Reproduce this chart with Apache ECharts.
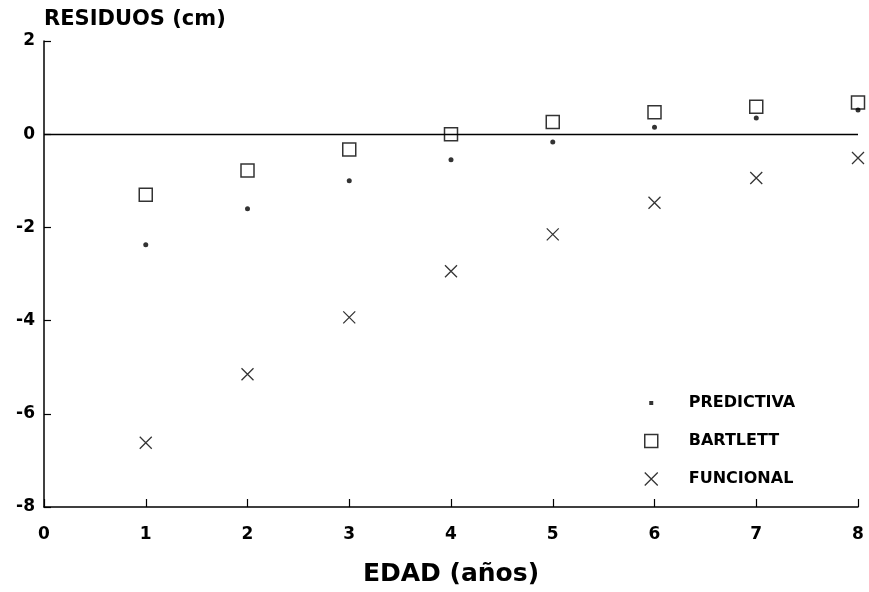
<!DOCTYPE html>
<html>
<head>
<meta charset="utf-8">
<script src="https://cdn.jsdelivr.net/npm/echarts@6/dist/echarts.min.js"></script>
<style>
html,body{margin:0;padding:0;background:#fff;}
#chart{width:869px;height:592px;}
</style>
</head>
<body>
<div id="chart"></div>
<script>
var edad = [1, 2, 3, 4, 5, 6, 7, 8];
var predictiva = [-2.37, -1.60, -1.00, -0.55, -0.17, 0.15, 0.35, 0.52];
var bartlett = [-1.30, -0.78, -0.33, 0.00, 0.26, 0.47, 0.59, 0.68];
var funcional = [-6.62, -5.15, -3.93, -2.94, -2.15, -1.47, -0.94, -0.51];
var seriesNames = ['PREDICTIVA', 'BARTLETT', 'FUNCIONAL'];
var xTitle = 'EDAD (años)';
var yTitle = 'RESIDUOS (cm)';

function pairs(xs, ys) { return xs.map(function (x, i) { return [x, ys[i]]; }); }

var FONT = 'DejaVu Sans';
var crossPath = 'path://M0 0L10 10M10 0L0 10';

var chart = echarts.init(document.getElementById('chart'), null, {renderer: 'canvas'});
chart.setOption({
  backgroundColor: '#fff',
  animation: false,
  grid: {left: 44, right: 11, top: 41, bottom: 83, containLabel: false},
  xAxis: {
    type: 'value', min: 0, max: 8, interval: 1,
    name: xTitle, nameLocation: 'middle', nameGap: 55,
    nameTextStyle: {fontFamily: FONT, fontWeight: 'bold', fontSize: 25, color: '#000'},
    axisLine: {show: true, onZero: false, lineStyle: {color: '#000', width: 1.5}},
    axisTick: {show: true, inside: true, length: 8, lineStyle: {color: '#000', width: 1.2}},
    axisLabel: {margin: 19, fontFamily: FONT, fontWeight: 'bold', fontSize: 17, color: '#000'},
    splitLine: {show: false}
  },
  yAxis: {
    type: 'value', min: -8, max: 2, interval: 2,
    name: yTitle, nameLocation: 'end', nameGap: 11,
    nameTextStyle: {fontFamily: FONT, fontWeight: 'bold', fontSize: 21, color: '#000', align: 'left'},
    axisLine: {show: true, onZero: false, lineStyle: {color: '#000', width: 1.5}},
    axisTick: {show: true, inside: true, length: 7, lineStyle: {color: '#000', width: 1.2}},
    axisLabel: {margin: 9, fontFamily: FONT, fontWeight: 'bold', fontSize: 17, color: '#000'},
    splitLine: {show: false}
  },
  legend: {
    orient: 'vertical', left: 639, top: 390,
    itemWidth: 13, itemHeight: 13, itemGap: 22,
    selectedMode: false,
    textStyle: {fontFamily: FONT, fontWeight: 'bold', fontSize: 16, color: '#000', padding: [0, 0, 0, 26]},
    data: [
      {name: seriesNames[0], icon: 'path://M0 0L0.01 0M13 13L13.01 13M4.5 4.5H8.5V8.5H4.5Z',
        itemStyle: {color: '#000', borderWidth: 0}},
      {name: seriesNames[1], icon: 'rect',
        itemStyle: {color: '#fff', borderColor: '#000', borderWidth: 1.5}},
      {name: seriesNames[2], icon: crossPath,
        itemStyle: {color: 'rgba(0,0,0,0)', borderColor: '#000', borderWidth: 1.3}}
    ]
  },
  series: [
    {
      name: seriesNames[0], type: 'scatter', symbol: 'circle', symbolSize: 5,
      itemStyle: {color: '#000'},
      data: pairs(edad, predictiva), z: 4,
      markLine: {
        silent: true, symbol: ['none', 'none'], label: {show: false},
        lineStyle: {color: '#000', width: 1.3, type: 'solid'},
        data: [{yAxis: 0}]
      }
    },
    {
      name: seriesNames[1], type: 'scatter', symbol: 'rect', symbolSize: 13,
      itemStyle: {color: 'rgba(255,255,255,0)', borderColor: '#000', borderWidth: 1.5},
      data: pairs(edad, bartlett), z: 3
    },
    {
      name: seriesNames[2], type: 'scatter', symbol: crossPath, symbolSize: 12,
      itemStyle: {color: 'rgba(0,0,0,0)', borderColor: '#000', borderWidth: 1.3},
      data: pairs(edad, funcional), z: 3
    }
  ]
});
</script>
</body>
</html>
